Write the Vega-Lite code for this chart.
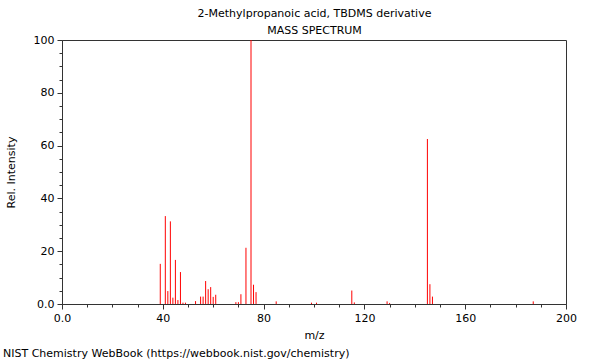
{
  "$schema": "https://vega.github.io/schema/vega-lite/v6.json",
  "width": 504,
  "height": 264,
  "autosize": "none",
  "padding": {"left": 62, "top": 40, "right": 34, "bottom": 56},
  "config": {
    "font": "DejaVu Sans",
    "view": {"stroke": "#333", "strokeWidth": 1},
    "axis": {
      "grid": false,
      "domainColor": "#333",
      "tickColor": "#333",
      "labelFontSize": 11,
      "labelColor": "black",
      "titleFontSize": 11,
      "titleFontWeight": "normal",
      "titleColor": "black",
      "labelPadding": 3
    }
  },
  "title": {
    "text": "NIST Chemistry WebBook (https://webbook.nist.gov/chemistry)",
    "orient": "bottom",
    "anchor": "start",
    "frame": "group",
    "dx": -59,
    "offset": 8,
    "fontSize": 11,
    "fontWeight": "normal",
    "color": "black"
  },
  "data": {
    "values": [
      {"mz": 39, "intensity": 15.2},
      {"mz": 41, "intensity": 33.3},
      {"mz": 42, "intensity": 4.9},
      {"mz": 43, "intensity": 31.3},
      {"mz": 44, "intensity": 2.4},
      {"mz": 45, "intensity": 16.7},
      {"mz": 46, "intensity": 1.5},
      {"mz": 47, "intensity": 12.1},
      {"mz": 48, "intensity": 0.5},
      {"mz": 49, "intensity": 0.5},
      {"mz": 53, "intensity": 1.1},
      {"mz": 55, "intensity": 2.8},
      {"mz": 56, "intensity": 2.8},
      {"mz": 57, "intensity": 8.7},
      {"mz": 58, "intensity": 5.6},
      {"mz": 59, "intensity": 6.4},
      {"mz": 60, "intensity": 2.7},
      {"mz": 61, "intensity": 3.5},
      {"mz": 69, "intensity": 0.7},
      {"mz": 70, "intensity": 0.7},
      {"mz": 71, "intensity": 3.7},
      {"mz": 73, "intensity": 21.3},
      {"mz": 75, "intensity": 100},
      {"mz": 76, "intensity": 7.3},
      {"mz": 77, "intensity": 4.5},
      {"mz": 85, "intensity": 1.0},
      {"mz": 99, "intensity": 0.5},
      {"mz": 101, "intensity": 0.5},
      {"mz": 115, "intensity": 5.1},
      {"mz": 116, "intensity": 0.6},
      {"mz": 129, "intensity": 1.0},
      {"mz": 130, "intensity": 0.4},
      {"mz": 145, "intensity": 62.5},
      {"mz": 146, "intensity": 7.5},
      {"mz": 147, "intensity": 2.8},
      {"mz": 187, "intensity": 1.0}
    ]
  },
  "layer": [
    {
      "mark": {"type": "rule", "color": "#ff0000", "strokeWidth": 1},
      "encoding": {
        "x": {
          "field": "mz",
          "type": "quantitative",
          "scale": {"domain": [0, 200], "nice": false, "zero": false},
          "axis": {
            "title": "m/z",
            "titlePadding": 6,
            "values": [0, 10, 20, 30, 40, 50, 60, 70, 80, 90, 100, 110, 120, 130, 140, 150, 160, 170, 180, 190, 200],
            "labelExpr": "datum.value % 40 === 0 ? (datum.value === 0 ? '0.0' : datum.label) : ''",
            "tickSize": {"condition": {"test": "datum.value % 40 === 0", "value": 5}, "value": 3},
            "labelFlush": false,
            "labelOverlap": false
          }
        },
        "y": {
          "field": "intensity",
          "type": "quantitative",
          "scale": {"domain": [0, 100], "nice": false},
          "axis": {
            "title": "Rel. Intensity",
            "titlePadding": 17,
            "values": [0, 5, 10, 15, 20, 25, 30, 35, 40, 45, 50, 55, 60, 65, 70, 75, 80, 85, 90, 95, 100],
            "labelExpr": "datum.value % 20 === 0 ? (datum.value === 0 ? '0.0' : datum.label) : ''",
            "tickSize": {"condition": {"test": "datum.value % 20 === 0", "value": 5}, "value": 3},
            "labelOverlap": false
          }
        },
        "y2": {"datum": 0}
      }
    },
    {
      "mark": {"type": "rule", "opacity": 0},
      "encoding": {
        "x": {
          "field": "mz",
          "type": "quantitative",
          "axis": {
            "orient": "top",
            "domain": false,
            "ticks": false,
            "labels": false,
            "title": ["2-Methylpropanoic acid, TBDMS derivative", "MASS SPECTRUM"],
            "titleLineHeight": 17,
            "titlePadding": 5
          }
        }
      }
    }
  ],
  "resolve": {"axis": {"x": "independent"}}
}
